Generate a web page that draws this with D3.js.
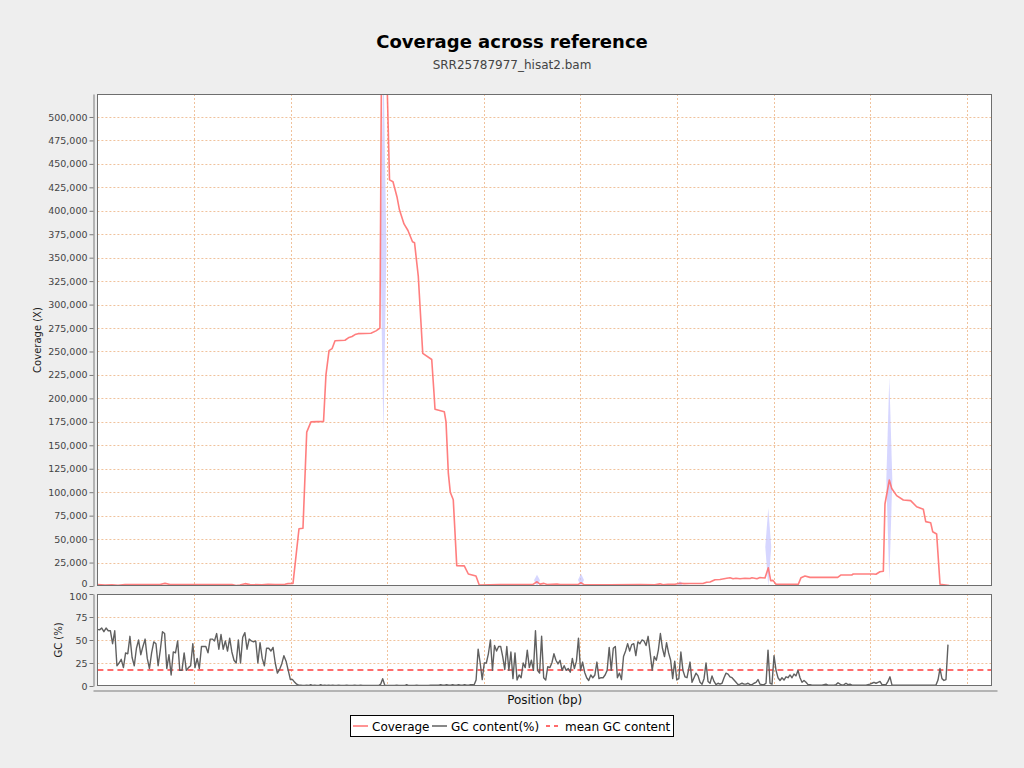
<!DOCTYPE html>
<html><head><meta charset="utf-8">
<script src="https://cdn.jsdelivr.net/npm/d3@7"></script>
<style>
html,body{margin:0;padding:0;background:#eeeeee;}
svg{display:block;font-family:"DejaVu Sans",sans-serif;}
</style></head>
<body>
<svg id="chart" width="1024" height="768"></svg>
<script>
// ---------- DATA ----------
const titleText = "Coverage across reference";
const subtitleText = "SRR25787977_hisat2.bam";
const refLength = 9261; // bp shown on x axis
const xGridTicks = [1000,2000,3000,4000,5000,6000,7000,8000,9000];
const covTicks = [0,25000,50000,75000,100000,125000,150000,175000,200000,225000,250000,275000,300000,325000,350000,375000,400000,425000,450000,475000,500000];
const covMax = 524500;
const gcTicks = [0,25,50,75,100];
const meanGC = 17.4;

// coverage line: position (bp) and depth (X)
const covPos = [0,79,151,213,286,389,648,700,752,1062,1393,1435,1476,1528,1580,1704,1766,1839,1942,1973,2025,2087,2128,2167,2211,2341,2366,2398,2429,2460,2563,2605,2636,2667,2698,2832,2884,2925,2941,2993,3024,3060,3101,3127,3174,3215,3262,3283,3322,3368,3461,3485,3495,3591,3609,3633,3653,3684,3720,3798,3840,3919,3953,4064,4168,4375,4509,4551,4582,4623,4654,4758,4789,4975,5006,5037,5306,5617,5772,5824,5855,5907,5979,6031,6073,6135,6269,6307,6342,6393,6445,6515,6549,6580,6611,6652,6704,6756,6776,6828,6859,6911,6945,6970,6994,7025,7256,7284,7325,7377,7664,7695,7809,7825,8032,8060,8101,8136,8153,8198,8223,8274,8343,8419,8481,8550,8575,8626,8647,8688,8723,8819];
const covVal = [1500,1000,1200,800,1500,1500,1600,2800,1600,1500,1500,600,1000,2500,1500,1300,1800,1500,1800,2500,2800,61000,61500,164000,175000,175500,225000,251000,253000,261500,262000,265000,266000,268000,269000,269500,272000,275000,560000,560000,433000,431000,415000,401000,386000,379000,367000,366000,330000,248000,241500,205000,188400,185800,175000,120000,100000,92000,21700,21500,12800,10700,1000,1300,1500,1500,1800,4500,2000,2800,1500,2200,1500,1500,3500,1500,1400,1500,1200,2300,1300,1800,1800,3000,2500,2600,2600,4000,4200,6700,7000,8200,8800,7800,8300,7700,8200,8000,8800,7800,9000,8500,19500,5700,6000,1800,1800,8900,10700,9200,9200,11700,11700,12800,12800,12500,15200,15700,87400,113000,104000,96300,91700,91000,84500,81800,68600,67500,57900,55400,1800,500];

// coverage spread (min/max) at spikes
const spreadPos = [2961,4551,5006,6031,6945,8198];
const spreadHi  = [560000,12000,13000,5000,83000,222000];
const spreadLo  = [160000,0,0,0,0,5000];

// GC content (%) in windows: segments with start (bp), step (bp), values
const gcStartA = 0,    gcStepA = 22.45;
const gcValA = [61.6,61,63,59,63,60,60,46,60,22,25,29,20,36,35,54,31,22,41,50,34,43,51,30,19,36,48,46,22,39,59,57,19,34,12,37,36,49,17,17,36,17,20,22,46,20,30,19,43,43,43,36,51,51,49,57,40,56,40,49,38,52,37,28,25,50,25,53,58,40,51,49,48,49,25,47,30,22,41,41,38,42,25,14,18,24,33,27,17,7,7,4];
const gcStartB = 2063, gcStepB = 20.7;
const gcValB = [2,1,1,0.5,0.5,1,0.5,1.5,0.5,1,0.5,0.5,1.5,0.5,1,0.5,1,0.5,1,0.5,0.5,1,0.5,0.5,0.5,1,0.5,0.5,0.5,1,0.5,0.5,1,0.5,0.5,0.5,0.5,0.5,0.5,0.5,0.5,0.5,2,8,1,0.5,0.5,0.5,0.5,0.5,1,0.5,0.5,0.5,0.5,1.5,0.5,0.5,0.5,0.5,1,0.5,0.5,0.5,0.5,0.5,0.5,1,1,1,1,1,1.5,1,1,1.5,1,1,1.5,1,1,1.5,1,1,1.5,1,1,1.5,1.5];
const gcStartC = 3899, gcStepC = 21.2;
const gcValC = [1,6.5,40,25,7,25,25,35,50,17,44,38,43,43,32,18,43,17,37,8,36,6.5,12,9,25,20,39,20,28,17,60,17,14,54,9,6.5,21,20,25,35,28,24,28,17,22,17,19,15,30,19,27,52,17,26,15,9,6,12,9,12,26,8,9,9,12,17,42,17,41,43,9,14,7,32,38,46,38,45,46,33,48,46,50,49,44,54,36,17,32,28,39,57,41,32,47,36,28,8,27,6.5,8,37,17,10,9];
const gcStartD = 6135, gcStepD = 20.7;
const gcValD = [26,4,9,14,11,4,2,8,25,5,3,11,5,1.5,3,2,3,9,14,13,10,9,6.5,4,1.5,2,3,2,2,3,1.5,1.5,3,4,7,2,1.5,1.5,3,39,3,2,33,17,9,6,9,6.5,10,9,12,9,13,11,17,9,4,6,4,1.5,1.5,1,1,1,1,1,1,1.5,2,1,1,1,1,1.5,3.5,2,1,1.5,3,1.5,2,1,1,1,1,1,1,1,1,1.5,2,3,4,3,4,5,1.5,1.5,1.5,5,10,1,1,1,1,1,1,1,1,1,1,1,1,1,1,1,1,1,1,1,1,1,1,1,6.5,19,8,6,7,45];

const legendItems = ["Coverage","GC content(%)","mean GC content"];

// ---------- BUILD ----------
const covData = covPos.map((p,i)=>({pos:p, v:covVal[i]}));
function seg(start, step, vals){ return vals.map((v,i)=>({pos:start+i*step, v:v})); }
const gcData = [].concat(seg(gcStartA,gcStepA,gcValA), seg(gcStartB,gcStepB,gcValB),
                         seg(gcStartC,gcStepC,gcValC), seg(gcStartD,gcStepD,gcValD));
const spreadData = spreadPos.map((p,i)=>({pos:p, hi:spreadHi[i], lo:spreadLo[i]}));

const svg = d3.select("#chart");
const L = 97.4, R = 992, T1 = 94, B1 = 586, T2 = 594, B2 = 686;
const x = d3.scaleLinear().domain([0, refLength]).range([L, R]);
const yC = d3.scaleLinear().domain([0, covMax]).range([B1, T1]);
const yG = d3.scaleLinear().domain([0, 100]).range([B2, T2]);

const gridColor = "#f0c29c";
const axisColor = "#7a7a7a";
const textColor = "#444444";

// title
svg.append("text").attr("x",512).attr("y",48).attr("text-anchor","middle")
  .attr("font-size",18).attr("font-weight","bold").attr("fill","#000").text(titleText);
svg.append("text").attr("x",512).attr("y",68.5).attr("text-anchor","middle")
  .attr("font-size",12).attr("fill",textColor).text(subtitleText);

// panels
function panel(top, bottom){
  svg.append("rect").attr("x",L-0.4).attr("y",top).attr("width",R-L+0.4).attr("height",bottom-top)
    .attr("fill","#ffffff");
}
panel(T1,B1); panel(T2,B2);

// grids
function grid(g, ys, yScale, top, bottom){
  g.selectAll("line.v").data(xGridTicks).join("line")
    .attr("x1",d=>Math.round(x(d))+0.5).attr("x2",d=>Math.round(x(d))+0.5)
    .attr("y1",top).attr("y2",bottom)
    .attr("stroke",gridColor).attr("stroke-width",1).attr("stroke-dasharray","2,2");
  g.selectAll("line.h").data(ys).join("line")
    .attr("x1",L).attr("x2",R)
    .attr("y1",d=>Math.round(yScale(d))+0.5).attr("y2",d=>Math.round(yScale(d))+0.5)
    .attr("stroke",gridColor).attr("stroke-width",1).attr("stroke-dasharray","2,2");
}
grid(svg.append("g"), covTicks.filter(d=>d>0), yC, T1, B1);
grid(svg.append("g"), gcTicks.filter(d=>d>0 && d<100), yG, T2, B2);

// clip paths
const defs = svg.append("defs");
defs.append("clipPath").attr("id","clipC").append("rect")
  .attr("x",L).attr("y",T1).attr("width",R-L).attr("height",B1-T1);
defs.append("clipPath").attr("id","clipG").append("rect")
  .attr("x",L).attr("y",T2).attr("width",R-L).attr("height",B2-T2);

// coverage spread spindles
const gC = svg.append("g").attr("clip-path","url(#clipC)");
const halfW = 3;
const spindle = d3.line().x(d=>d[0]).y(d=>d[1]).curve(d3.curveLinearClosed);
gC.selectAll("path.spread").data(spreadData).join("path")
  .attr("d", d=>{
    const cx = x(d.pos), yh = yC(d.hi), yl = yC(d.lo), ym = (yh+yl)/2;
    return spindle([[cx,yh],[cx+halfW,ym],[cx,yl],[cx-halfW,ym]]);
  })
  .attr("fill","#c4c4ff").attr("fill-opacity",0.7);

// coverage line
gC.append("path").datum(covData)
  .attr("d", d3.line().x(d=>x(d.pos)).y(d=>yC(d.v)))
  .attr("fill","none").attr("stroke","#ff7070").attr("stroke-opacity",0.9).attr("stroke-width",1.6)
  .attr("stroke-linejoin","round");

// GC line + mean
const gG = svg.append("g").attr("clip-path","url(#clipG)");
gG.append("line").attr("x1",L).attr("x2",R).attr("y1",yG(meanGC)).attr("y2",yG(meanGC))
  .attr("stroke","#ff3c3c").attr("stroke-width",1.5).attr("stroke-dasharray","6,4");
gG.append("path").datum(gcData)
  .attr("d", d3.line().x(d=>x(d.pos)).y(d=>yG(d.v)))
  .attr("fill","none").attr("stroke","#606060").attr("stroke-width",1.4).attr("stroke-linejoin","round");

// panel borders
[[T1,B1],[T2,B2]].forEach(([t,b])=>{
  svg.append("rect").attr("x",L-0.4+0.5).attr("y",t+0.5).attr("width",R-L-0.6).attr("height",b-t-1)
    .attr("fill","none").attr("stroke","#6e6e6e").attr("stroke-width",1);
});

// y axes
function styleAxis(g){
  g.selectAll("path.domain").attr("stroke",axisColor);
  g.selectAll(".tick line").attr("stroke",axisColor);
  g.selectAll(".tick text").attr("fill",textColor).attr("font-size",9.5)
    .attr("font-family","DejaVu Sans");
}
const axC = svg.append("g").attr("transform","translate(93.5,0)")
  .call(d3.axisLeft(yC).tickValues(covTicks).tickFormat(d3.format(",")).tickSize(4).tickPadding(2).tickSizeOuter(0));
styleAxis(axC);
// keep the "0" label just clear of the GC panel's "100"
axC.selectAll(".tick text").filter(d=>d===0).attr("dy","0.1em");
const axG = svg.append("g").attr("transform","translate(93.5,0)")
  .call(d3.axisLeft(yG).tickValues(gcTicks).tickSize(4).tickPadding(2).tickSizeOuter(0));
styleAxis(axG);
axG.selectAll(".tick text").filter(d=>d===100).attr("dy","0.55em");

// x axis (no tick labels)
const axX = svg.append("g").attr("transform","translate(0,690.5)")
  .call(d3.axisBottom(x.copy().range([93, 997])).tickValues([]).tickSizeOuter(0));
axX.selectAll("path.domain").attr("stroke",axisColor);

// axis titles
svg.append("text").attr("transform","translate(41,"+((T1+B1)/2)+") rotate(-90)")
  .attr("text-anchor","middle").attr("font-size",10).attr("fill","#222").text("Coverage (X)");
svg.append("text").attr("transform","translate(62,"+((T2+B2)/2)+") rotate(-90)")
  .attr("text-anchor","middle").attr("font-size",10).attr("fill","#222").text("GC (%)");
svg.append("text").attr("x",(L+R)/2).attr("y",704).attr("text-anchor","middle")
  .attr("font-size",12).attr("fill","#111").text("Position (bp)");

// legend
const lg = svg.append("g");
lg.append("rect").attr("x",350.5).attr("y",715.5).attr("width",323).attr("height",21)
  .attr("fill","#fff").attr("stroke","#000").attr("stroke-width",1);
const legendStyles = [
  {stroke:"#ff7070", dash:null, lx:353},
  {stroke:"#606060", dash:null, lx:432},
  {stroke:"#ff3c3c", dash:"4,4", lx:546}
];
legendItems.forEach((t,i)=>{
  const s = legendStyles[i];
  lg.append("line").attr("x1",s.lx).attr("x2",s.lx+15).attr("y1",726).attr("y2",726)
    .attr("stroke",s.stroke).attr("stroke-width",1.5).attr("stroke-dasharray",s.dash);
  lg.append("text").attr("x",s.lx+19).attr("y",730.5).attr("font-size",12).attr("fill","#000").text(t);
});
</script>
</body></html>
